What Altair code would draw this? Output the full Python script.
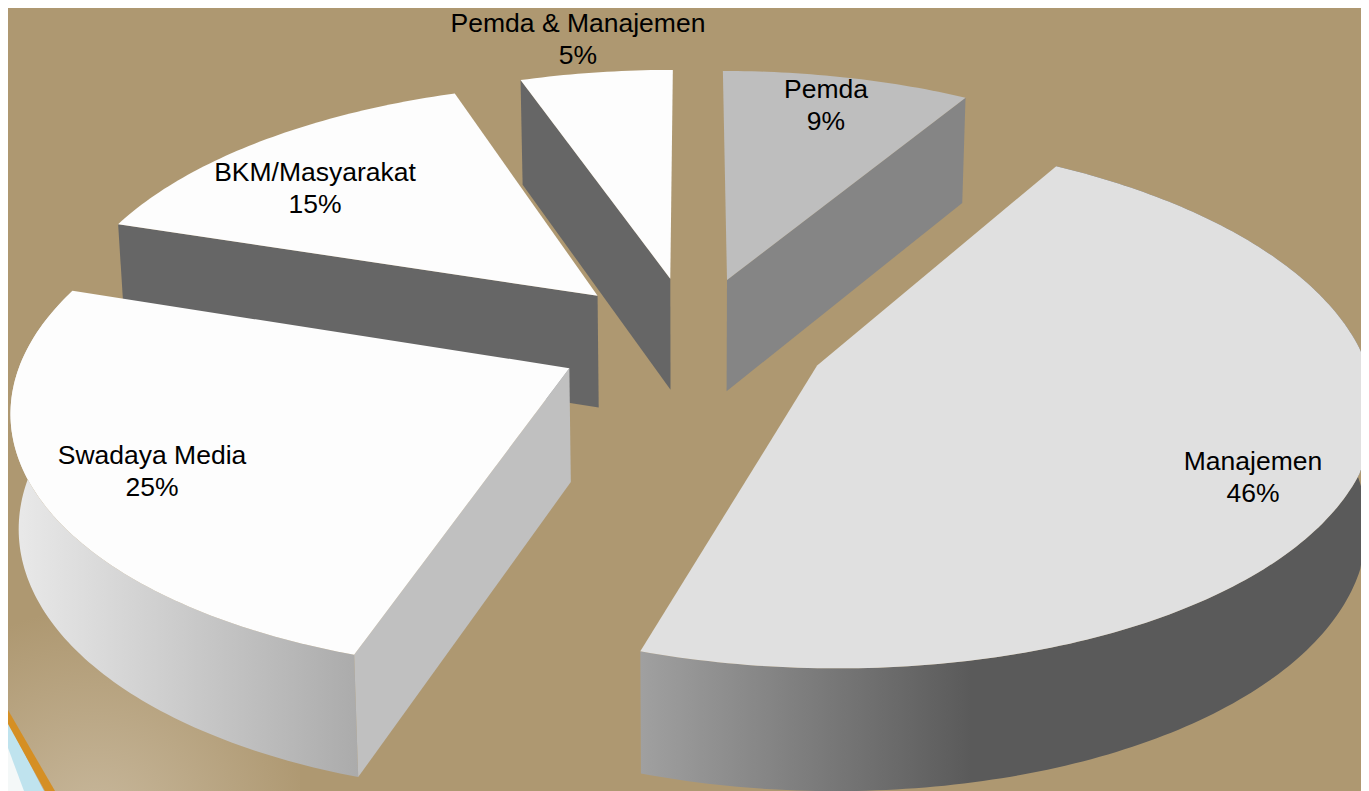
import math
import altair as alt

# ---- chart values -------------------------------------------------------
categories = ["Pemda", "Manajemen", "Swadaya Media", "BKM/Masyarakat", "Pemda & Manajemen"]
percent_labels = ["9%", "46%", "25%", "15%", "5%"]
# slice sizes as measured on the drawn pie (the printed labels are rounded by the source)
values = [8.6, 46.4, 25.0, 14.7, 5.3]
label_x = [826, 1253, 152, 315, 578]
label_y = [90, 462, 456, 173, 24]
top_colors = ["#BEBEBE", "#E0E0E0", "#FDFDFD", "#FDFDFD", "#FDFDFD"]
cut_colors = ["#858585", None, "#C0C0C0", "#666666", "#666666"]
cut_edge = ["end", None, "start", "start", "start"]   # radial wall that faces the viewer
draw_order = [4, 0, 3, 2, 1]

# ---- view of the tilted pie ---------------------------------------------
CX, CY, SX, SY, K, EXPLODE, DEPTH, CONVERGE = 692, 339, 542, 253, 0.138, 0.25, 113, 0.988
BG = "#AE9871"
OX, OY = 8, 8  # page margin
RIGHT, BOTTOM = 1361, 791
W, H = RIGHT - OX, BOTTOM - OY


def project(u, v, down=False):
    f = 1 + K * v
    x = CX + SX * u / f
    y = CY - SY * v / f
    if down:
        x = CX + (x - CX) * CONVERGE
        y += DEPTH / math.sqrt(f)
    return [x, y]


def feature(points):
    points = [[min(max(x, OX), RIGHT), min(max(y, OY), BOTTOM)] for x, y in points]
    return {"type": "Feature", "properties": {},
            "geometry": {"type": "Polygon", "coordinates": [points + [points[0]]]}}


def shape(points, fill):
    return alt.Chart(alt.Data(values=[feature(points)])).mark_geoshape(
        fill=fill, stroke=None, strokeWidth=0
    ).project(type="identity")


man_wall = alt.Gradient(gradient="linear", x1=0, y1=0, x2=1, y2=0, stops=[
    alt.GradientStop(offset=0, color="#A0A0A0"),
    alt.GradientStop(offset=0.46, color="#5A5A5A"),
    alt.GradientStop(offset=1, color="#5A5A5A")])
swa_wall = alt.Gradient(gradient="linear", x1=0, y1=0, x2=1, y2=0, stops=[
    alt.GradientStop(offset=0, color="#EAEAEA"),
    alt.GradientStop(offset=1, color="#ABABAB")])
outer_fill = {"Manajemen": man_wall, "Swadaya Media": swa_wall}

layers = []

# full frame: fixes the map fit so one data unit is one pixel
layers.append(shape([[OX, OY], [RIGHT, OY], [RIGHT, BOTTOM], [OX, BOTTOM]], BG))

# lower-left corner of the slide artwork behind the chart
glow = alt.Gradient(gradient="radial", x1=0.3, y1=0.95, r1=0, x2=0.3, y2=0.95, r2=0.75, stops=[
    alt.GradientStop(offset=0, color="#C8B89C"),
    alt.GradientStop(offset=1, color=BG)])
layers.append(shape([[0, 600], [300, 600], [300, 791], [0, 791]], glow))
layers.append(shape([[0, 722], [44, 791], [0, 791]], "#BFE3EE"))
layers.append(shape([[0, 748], [24, 791], [0, 791]], "#F4F8F8"))
layers.append(shape([[0, 710], [55, 791], [45, 791], [0, 724]], "#D58F24"))

# slices, back to front
total = sum(values)
starts = []
acc = 0
for val in values:
    starts.append(acc)
    acc += val

for i in draw_order:
    a0 = starts[i] / total * 2 * math.pi
    a1 = (starts[i] + values[i]) / total * 2 * math.pi
    mid = (a0 + a1) / 2
    ou, ov = EXPLODE * math.sin(mid), EXPLODE * math.cos(mid)
    steps = max(8, int(values[i] * 4))
    rim = [(ou + math.sin(a0 + (a1 - a0) * s / steps), ov + math.cos(a0 + (a1 - a0) * s / steps))
           for s in range(steps + 1)]
    name = categories[i]
    if name in outer_fill:
        pts = [project(u, v) for u, v in rim] + [project(u, v, True) for u, v in reversed(rim)]
        layers.append(shape(pts, outer_fill[name]))
    if cut_edge[i]:
        u, v = rim[-1] if cut_edge[i] == "end" else rim[0]
        pts = [project(ou, ov), project(u, v), project(u, v, True), project(ou, ov, True)]
        layers.append(shape(pts, cut_colors[i]))
    layers.append(shape([project(ou, ov)] + [project(u, v) for u, v in rim], top_colors[i]))

# labels
rows = [{"lon": label_x[i], "lat": label_y[i], "text": f"{categories[i]}\n{percent_labels[i]}"}
        for i in range(len(categories))]
labels = alt.Chart(alt.Data(values=rows)).mark_text(
    font="Liberation Sans", fontSize=26.5, color="#000000", align="center",
    baseline="middle", lineBreak="\n", lineHeight=32
).encode(
    longitude="lon:Q", latitude="lat:Q", text="text:N"
).project(type="identity")
layers.append(labels)

chart = alt.layer(*layers).properties(
    width=W, height=H, background=BG, padding=0
).configure_view(stroke=None)

chart.save("out.html", embed_options={"renderer": "svg", "actions": False})
